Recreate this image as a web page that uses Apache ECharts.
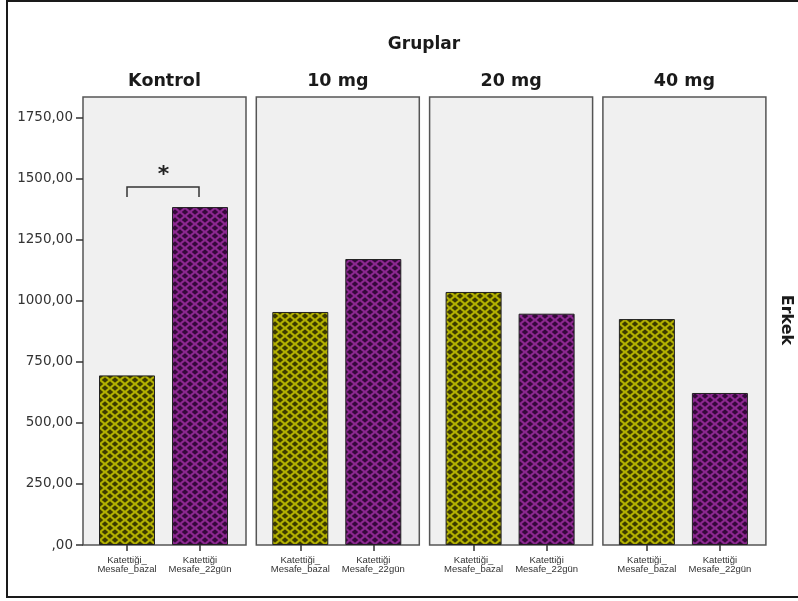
<!DOCTYPE html>
<html>
<head>
<meta charset="utf-8">
<script src="https://cdn.jsdelivr.net/npm/echarts@6/dist/echarts.min.js"></script>
<style>
  html, body { margin: 0; padding: 0; background: #ffffff; }
  #chart { width: 798px; height: 601px; }
</style>
</head>
<body>
<div id="chart"></div>
<script>
// Panel groups and the two distance measures shown in each panel
const groups = ['Kontrol', '10 mg', '20 mg', '40 mg'];
const measures = ['Katettiği_\nMesafe_bazal', 'Katettiği\nMesafe_22gün'];
// Mean distance values per group
const bazal = [695, 955, 1037, 926];
const gun22 = [1385, 1172, 948, 623];
// Value-axis ticks
const yTicks = [0, 250, 500, 750, 1000, 1250, 1500, 1750];
const yMax = 1836;
// Significance bracket over the Kontrol pair
const sigBracket = [[0, 1, 1467]];

// Layout
const PANEL_X0 = 83, PANEL_STEP = 173.3, PANEL_W = 163;
const PANEL_TOP = 97, PANEL_H = 448;
const INSET_L = 7.5, PLOT_W = 146;

function makePattern(base, dark) {
  const c = document.createElement('canvas');
  const w = 10, h = 8;
  c.width = w; c.height = h;
  const g = c.getContext('2d');
  g.fillStyle = base;
  g.fillRect(0, 0, w, h);
  g.fillStyle = dark;
  const rx = 3.2, ry = 2.7;
  [[0, 0], [w, 0], [0, h], [w, h], [w / 2, h / 2]].forEach(([cx, cy]) => {
    g.beginPath();
    g.moveTo(cx, cy - ry); g.lineTo(cx + rx, cy); g.lineTo(cx, cy + ry); g.lineTo(cx - rx, cy);
    g.closePath(); g.fill();
  });
  return { image: c, repeat: 'repeat' };
}
const yellowFill = makePattern('#b2b000', '#3c3a00');
const purpleFill = makePattern('#8c2890', '#35093a');

const chart = echarts.init(document.getElementById('chart'), null, { renderer: 'canvas' });

const grids = [], xAxes = [], yAxes = [], series = [], graphics = [];

// Outer frame (left, top and bottom edges)
graphics.push({
  type: 'polyline', z: 0,
  shape: { points: [[800, 1], [7, 1], [7, 597], [800, 597]] },
  style: { fill: null, stroke: '#1a1a1a', lineWidth: 2 }
});
graphics.push({
  type: 'text', z: 5, x: 424, y: 45,
  style: { text: 'Gruplar', font: 'bold 17px "DejaVu Sans"', fill: '#1a1a1a', textAlign: 'center', textVerticalAlign: 'middle' }
});
graphics.push({
  type: 'text', z: 5, x: 786, y: 320, rotation: -Math.PI / 2,
  style: { text: 'Erkek', font: 'bold 16px "DejaVu Sans"', fill: '#1a1a1a', textAlign: 'center', textVerticalAlign: 'middle' }
});

groups.forEach((name, i) => {
  const px = PANEL_X0 + i * PANEL_STEP;
  graphics.push({
    type: 'rect', z: 0,
    shape: { x: px, y: PANEL_TOP, width: PANEL_W, height: PANEL_H },
    style: { fill: '#f0f0f0', stroke: '#555555', lineWidth: 1.5 }
  });
  graphics.push({
    type: 'text', z: 5, x: px + PANEL_W / 2, y: 81,
    style: { text: name, font: 'bold 17.5px "DejaVu Sans"', fill: '#1a1a1a', textAlign: 'center', textVerticalAlign: 'middle' }
  });

  grids.push({ left: px + INSET_L, top: PANEL_TOP, width: PLOT_W, height: PANEL_H, containLabel: false });
  xAxes.push({
    type: 'category', gridIndex: i, data: measures,
    axisLine: { show: false },
    axisTick: { show: true, alignWithLabel: true, length: 6, lineStyle: { color: '#333', width: 1.5 } },
    axisLabel: { interval: 0, fontSize: 9.5, lineHeight: 9, color: '#333', margin: 11, fontFamily: '"Liberation Sans", Arial' },
    splitLine: { show: false }
  });
  yAxes.push({
    type: 'value', gridIndex: i, min: 0, max: yMax, interval: 250,
    show: i === 0,
    offset: INSET_L,
    axisLine: { show: false },
    axisTick: { show: i === 0, length: 7, customValues: yTicks, lineStyle: { color: '#333', width: 1.5 } },
    axisLabel: {
      show: i === 0, customValues: yTicks, margin: 10, fontSize: 13.5, color: '#333',
      fontFamily: '"DejaVu Sans"',
      formatter: v => (v === 0 ? ',00' : v + ',00')
    },
    splitLine: { show: false }
  });
  series.push({
    type: 'bar', xAxisIndex: i, yAxisIndex: i, barWidth: 56, z: 3,
    data: [
      { value: bazal[i], itemStyle: { color: yellowFill } },
      { value: gun22[i], itemStyle: { color: purpleFill } }
    ],
    itemStyle: { borderColor: '#222', borderWidth: 1 },
    emphasis: { disabled: true },
    silent: true
  });
});

// Significance bracket with asterisk
series.push({
  type: 'custom', xAxisIndex: 0, yAxisIndex: 0, z: 4, silent: true, clip: false,
  data: sigBracket,
  renderItem: (params, api) => {
    const a = api.coord([api.value(0), api.value(2)]);
    const b = api.coord([api.value(1), api.value(2)]);
    return {
      type: 'group',
      children: [
        {
          type: 'polyline',
          shape: { points: [[a[0], a[1] + 10], [a[0], a[1]], [b[0] - 1, b[1]], [b[0] - 1, b[1] + 10]] },
          style: { stroke: '#333', lineWidth: 1.5, fill: null }
        },
        {
          type: 'text', x: (a[0] + b[0]) / 2, y: a[1] - 12,
          style: { text: '*', font: 'bold 22px "DejaVu Sans"', fill: '#222', textAlign: 'center', textVerticalAlign: 'middle' }
        }
      ]
    };
  }
});

chart.setOption({
  animation: false,
  backgroundColor: '#ffffff',
  graphic: { elements: graphics },
  grid: grids,
  xAxis: xAxes,
  yAxis: yAxes,
  series: series
});
</script>
</body>
</html>
